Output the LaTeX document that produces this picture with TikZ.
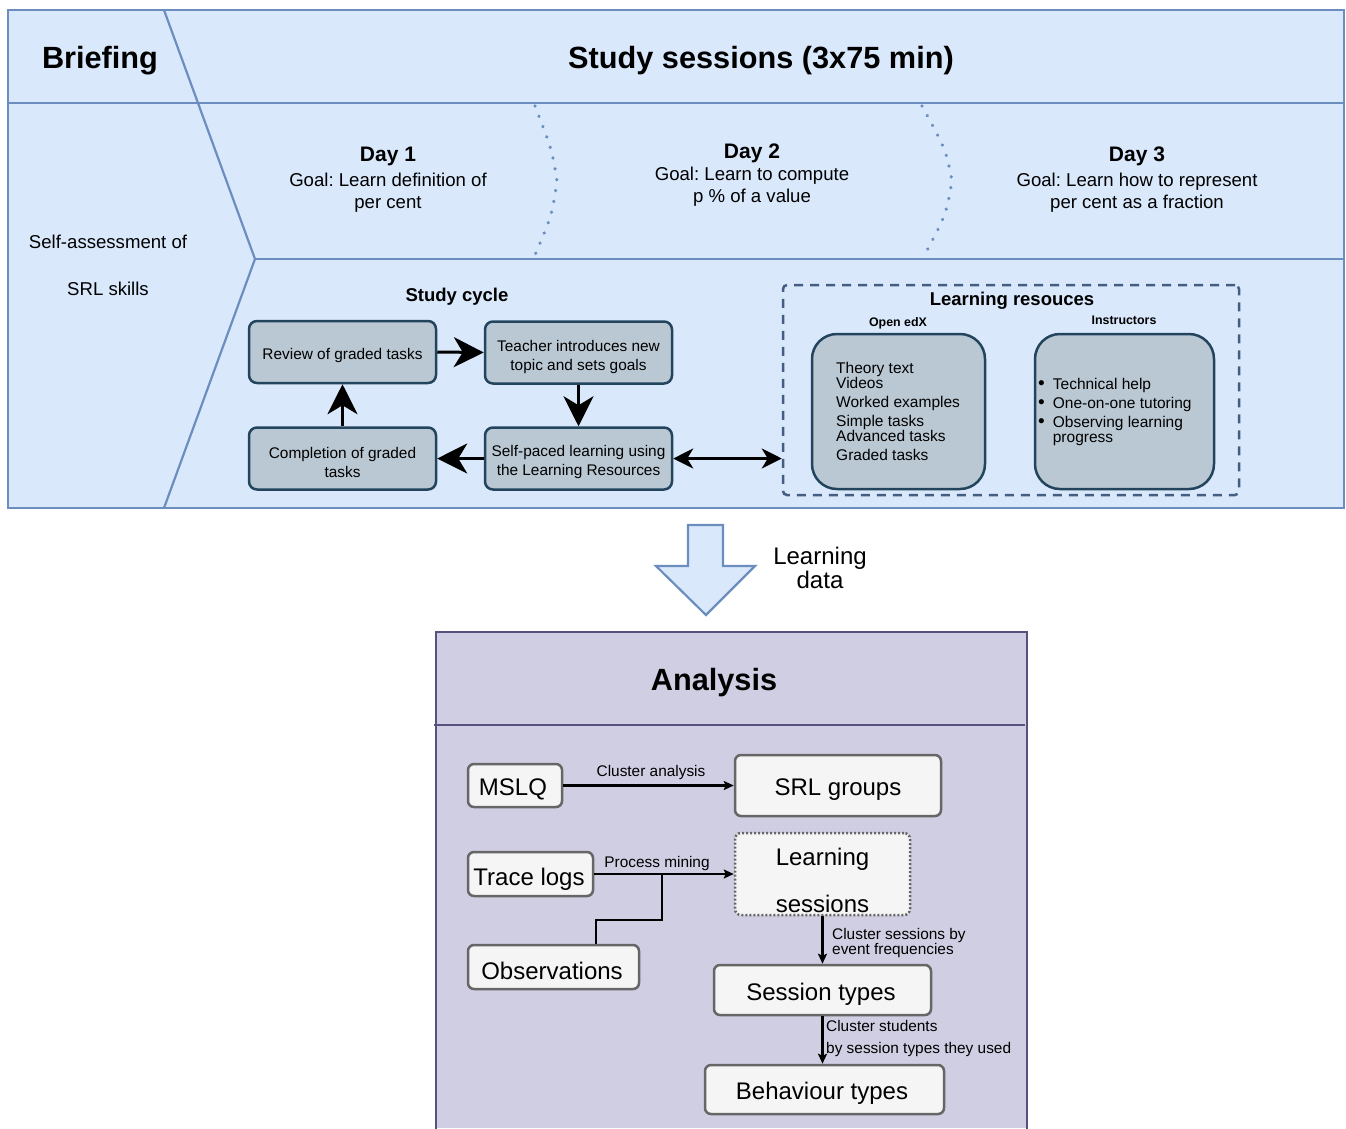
\documentclass[tikz,border=0pt]{standalone}
\usepackage{fontspec}
\setmainfont{Liberation Sans}
\usetikzlibrary{arrows.meta,calc}
\definecolor{topfill}{HTML}{DAE8FC}
\definecolor{topline}{HTML}{6C8EBF}
\definecolor{cycfill}{HTML}{BAC8D3}
\definecolor{cycline}{HTML}{23445D}
\definecolor{dashline}{HTML}{435E80}
\definecolor{anfill}{HTML}{D0CEE2}
\definecolor{anline}{HTML}{56517E}
\definecolor{infill}{HTML}{F5F5F5}
\definecolor{inline}{HTML}{666666}
\newcommand{\myfs}[2]{\fontsize{#1}{#2}\selectfont}
\frenchspacing
\begin{document}
\begin{tikzpicture}[x=1pt,y=-1pt,
  ttl/.style={font=\bfseries\myfs{30.7}{36}, inner sep=0pt},
  dayttl/.style={font=\bfseries\myfs{21}{24}, inner sep=0pt},
  txt/.style={font=\myfs{18.6}{22}, align=center, inner sep=0pt},
  sub/.style={font=\bfseries\myfs{18.5}{22}, inner sep=0pt},
  small/.style={font=\bfseries\myfs{12.4}{14}, inner sep=0pt},
  cyc/.style={draw=cycline, fill=cycfill, line width=2.5pt, rounded corners=8pt, minimum width=187pt, minimum height=62pt, inner sep=0pt},
  cyctxt/.style={align=center, font=\myfs{15.4}{19}, inner sep=0pt},
  bigarr/.style={line width=3pt, -{Stealth[length=30pt,width=30pt,inset=9pt]}},
  res/.style={draw=cycline, fill=cycfill, line width=2.5pt, rounded corners=25pt, minimum width=173pt, minimum height=155pt, inner sep=0pt},
  restxt/.style={font=\myfs{15.5}{19}, align=left, inner sep=0pt},
  inb/.style={draw=inline, fill=infill, line width=2.5pt, rounded corners=6pt, inner sep=0pt},
  intxt/.style={font=\myfs{24}{28}, inner sep=0pt},
  conn/.style={line width=2.2pt, -{Stealth[length=10pt,width=9pt,inset=2pt]}},
  lab/.style={font=\myfs{15.4}{15}, inner sep=0pt, align=left},
  sep/.style={draw=topline, line width=3.6pt, line cap=round, dash pattern=on 0.01pt off 11pt}
]
\useasboundingbox (0,0) rectangle (1346,1128);

% ---------- top panel ----------
\path[fill=topfill, draw=topline, line width=2.2pt] (8,10) rectangle (1344,508);
\draw[topline, line width=2.2pt] (8,103) -- (1344,103);
\draw[topline, line width=2.2pt] (255,259) -- (1344,259);
\draw[topline, line width=2.2pt] (164,10) -- (255,259) -- (164,508);
\draw[sep] (535,106) .. controls (552,150) .. (557,181) .. controls (552,215) .. (535,255);
\draw[sep] (922,106) .. controls (946,150) .. (952,181) .. controls (946,215) .. (925,254);

\node[ttl] (brief) at (100,61) {Briefing};
\node[ttl] (study) at (761,61) {Study sessions (3x75 min)};
\node[txt] (self1) at (108,242) {Self-assessment of};
\node[txt] (self2) at (108,289) {SRL skills};

\node[dayttl] (d1) at (388,156) {Day 1};
\node[txt] (g1) at (388,193) {Goal: Learn definition of\\per cent};
\node[dayttl] (d2) at (752,153) {Day 2};
\node[txt] (g2) at (752,187) {Goal: Learn to compute\\p \% of a value};
\node[dayttl] (d3) at (1137,156) {Day 3};
\node[txt] (g3) at (1137,193) {Goal: Learn how to represent\\per cent as a fraction};

% study cycle
\node[sub] (sc) at (457,297) {Study cycle};
\node[cyc] (rev) at (342.5,352) {};
\node[cyc] (tea) at (578.5,352.5) {};
\node[cyc] (comp) at (342.5,458.5) {};
\node[cyc] (sp) at (578.5,458.5) {};
\node[cyctxt] (revt) at (342.5,356) {Review of graded tasks};
\node[cyctxt] (teat) at (578.5,357) {Teacher introduces new\\topic and sets goals};
\node[cyctxt] (compt) at (342.5,462) {Completion of graded\\tasks};
\node[cyctxt] (spt) at (578.5,462) {Self-paced learning using\\the Learning Resources};
\draw[bigarr] (rev.east) -- (tea.west);
\draw[bigarr] (tea.south) -- (sp.north);
\draw[bigarr] (sp.west) -- (comp.east);
\draw[bigarr] (comp.north) -- (rev.south);

% learning resources
\node[draw=dashline, line width=2.5pt, dash pattern=on 9pt off 7pt, rounded corners=4pt, minimum width=456pt, minimum height=210pt, inner sep=0pt] (lr) at (1011,390) {};
\node[sub] (lrt) at (1012,301) {Learning resouces};
\node[small] (oex) at (898,323) {Open edX};
\node[small] (ins) at (1124,320) {Instructors};
\node[res] (oexb) at (898.5,411.5) {};
\node[restxt, anchor=west] (oext) at (836,411.5) {Theory text\\[-4pt]Videos\\Worked examples\\Simple tasks\\[-4pt]Advanced tasks\\Graded tasks};
\node[res, minimum width=179pt] (insb) at (1124.5,411.5) {};
\node[restxt, anchor=west] (inst) at (1038,412.5) {%
\begin{tabular}{@{}l@{\hspace{8pt}}l@{}}
{\myfs{19}{19}\textbullet} & Technical help\\
{\myfs{19}{19}\textbullet} & One-on-one tutoring\\
{\myfs{19}{19}\textbullet} & Observing learning\\[-4pt]
 & progress
\end{tabular}};
\draw[line width=2.5pt, {Stealth[length=20pt,width=20pt,inset=6pt]}-{Stealth[length=20pt,width=20pt,inset=6pt]}] (sp.east) -- (sp.east -| lr.west);

% ---------- block arrow ----------
\draw[fill=topfill, draw=topline, line width=2.2pt, line join=miter] (688,525) -- (723,525) -- (723,566) -- (755,566) -- (706,615) -- (656,566) -- (688,566) -- cycle;
\node[font=\myfs{24}{20}, align=center, inner sep=0pt] (ld) at (820,568) {Learning\\data};

% ---------- analysis ----------
\path[fill=anfill] (436,632) rectangle (1027,1128);
\draw[anline, line width=2.5pt] (436,1130) -- (436,632) -- (1027,632) -- (1027,1130);
\draw[anline, line width=2.5pt] (434,725) -- (1025,725);
\node[ttl] (an) at (714,683) {Analysis};

\node[inb, minimum width=94pt, minimum height=43pt] (mslq) at (515,785.5) {};
\node[inb, minimum width=206pt, minimum height=61pt] (srl) at (838,785.5) {};
\node[inb, minimum width=125pt, minimum height=44pt] (trace) at (530.5,874) {};
\node[inb, dash pattern=on 2pt off 2pt, minimum width=175pt, minimum height=82pt] (ls) at (822.5,874) {};
\node[inb, minimum width=171pt, minimum height=44pt] (obs) at (553.5,967) {};
\node[inb, minimum width=217pt, minimum height=50pt] (st) at (822.5,990) {};
\node[inb, minimum width=239pt, minimum height=49pt] (bt) at (824.5,1089.5) {};

\node[intxt] (mslqt) at (513,789.5) {MSLQ};
\node[intxt] (srlt) at (838,790) {SRL groups};
\node[intxt] (tracet) at (529,879) {Trace logs};
\node[font=\myfs{24}{47}, align=center, inner sep=0pt] (lst) at (822.5,880) {Learning\\sessions};
\node[intxt] (obst) at (552,971) {Observations};
\node[intxt] (stt) at (821,994) {Session types};
\node[intxt] (btt) at (822,1093.5) {Behaviour types};

\coordinate (ox) at (596,0);
\coordinate (jn) at (662,874);
\draw[conn] (mslq) -- (srl);
\node[lab] (ca) at (651,773) {Cluster analysis};
\draw[conn] (trace) -- (ls);
\node[lab] (pm) at (657,863.5) {Process mining};
\draw[line width=2.2pt, line join=miter] (obs.north -| ox) -- ++(0,-24) -| (jn);
\draw[conn] (ls.south) -- (st.north);
\node[lab, anchor=west] (l1) at (832,943) {Cluster sessions by\\event frequencies};
\draw[conn] (st.south) -- (st.south |- bt.north);
\node[lab, anchor=west, font=\myfs{15.4}{22}] (l2) at (826,1039) {Cluster students\\by session types they used};
\end{tikzpicture}
\end{document}
